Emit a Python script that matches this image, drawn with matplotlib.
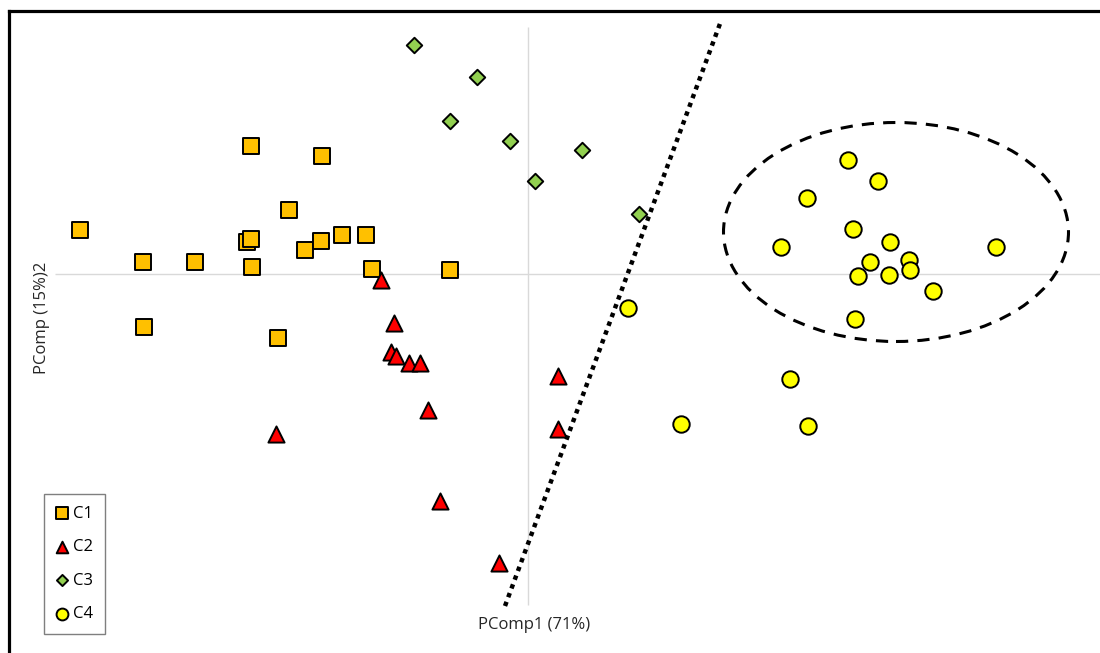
import matplotlib
matplotlib.use('Agg')
import matplotlib.pyplot as plt
from matplotlib.lines import Line2D
from matplotlib.patches import Ellipse

plt.rcParams['font.family'] = ['Open Sans', 'DejaVu Sans']

# ── PCA scores per cluster ─────────────────────────────────────────────────────
c1_x = [-4.48, -3.85, -3.33, -2.81, -2.77, -2.76, -2.77, -2.06, -2.39,
        -2.23, -2.07, -1.86, -1.62, -1.56, -0.78, -3.84, -2.50]
c1_y = [0.44, 0.12, 0.12, 0.32, 0.35, 0.07, 1.28, 1.18, 0.64,
        0.24, 0.33, 0.39, 0.39, 0.05, 0.04, -0.53, -0.64]

c2_x = [-1.47, -1.34, -1.37, -1.32, -1.19, -1.08, -2.52, -1.00, -0.88, -0.29, 0.30, 0.30]
c2_y = [-0.06, -0.49, -0.78, -0.82, -0.89, -0.89, -1.60, -1.36, -2.27, -2.89, -1.02, -1.55]

c3_x = [-1.14, -0.51, -0.78, -0.18, 0.54, 0.07, 1.11]
c3_y = [2.29, 1.97, 1.53, 1.33, 1.24, 0.93, 0.60]

c4_x = [3.20, 3.50, 2.79, 3.25, 2.53, 3.62, 4.68, 3.42, 3.81,
        3.82, 3.30, 3.61, 4.05, 3.27, 1.00, 2.62, 1.53, 2.80]
c4_y = [1.14, 0.93, 0.76, 0.45, 0.27, 0.32, 0.27, 0.12, 0.14,
        0.04, -0.02, -0.01, -0.17, -0.45, -0.34, -1.05, -1.50, -1.52]

# separating line and cluster outline
sep_x = [-0.23, 1.93]
sep_y = [-3.32, 2.53]
ell_center = (3.68, 0.42)
ell_w, ell_h = 3.45, 2.19

fig = plt.figure(figsize=(11, 6.53), dpi=100)
ax = fig.add_axes([0, 0, 1, 1])
ax.set_xlim(-5.28, 5.72)
ax.set_ylim(-3.79, 2.74)
ax.axis('off')

# axes through the origin
ax.hlines(0, -4.73, 5.72, color='#d9d9d9', lw=1, zorder=1)
ax.vlines(0, -3.31, 2.47, color='#d9d9d9', lw=1, zorder=1)

ax.plot(sep_x, sep_y, color='black', lw=3.2, linestyle=(0, (1, 1.1)), zorder=2)
ax.add_patch(Ellipse(ell_center, ell_w, ell_h, fill=False, edgecolor='black',
                     lw=2.2, linestyle=(0, (4, 3)), zorder=2))

kw = dict(edgecolors='black', linewidths=1.4, zorder=3)
ax.scatter(c1_x, c1_y, marker='s', s=125, c='#FFC000', label='C1', **kw)
ax.scatter(c2_x, c2_y, marker='^', s=135, c='#FF0000', label='C2', **kw)
ax.scatter(c3_x, c3_y, marker='D', s=62, c='#92D050', label='C3', **kw)
ax.scatter(c4_x, c4_y, marker='o', s=140, c='#FFFF00', label='C4', **kw)

leg = ax.legend(loc='lower left', bbox_to_anchor=(44 / 1100, 1 - 634 / 653),
                bbox_transform=fig.transFigure, borderaxespad=0,
                fontsize=12, markerscale=0.72, labelspacing=1.05,
                handlelength=0.75, handletextpad=0.3, borderpad=0.7,
                fancybox=False, edgecolor='#7f7f7f', framealpha=1)
leg.get_frame().set_linewidth(1)

fig.text(534 / 1100, 1 - 625 / 653, 'PComp1 (71%)', ha='center', va='center',
         fontsize=12, color='#262626')
fig.text(42 / 1100, 1 - 318 / 653, 'PComp (15%)2', ha='center', va='center',
         rotation=90, fontsize=12, color='#262626')

# outer frame (left and top edges)
fig.add_artist(Line2D([9 / 1100, 9 / 1100], [0, 1 - 10.5 / 653],
                      color='black', lw=2.3, transform=fig.transFigure))
fig.add_artist(Line2D([9 / 1100, 1], [1 - 10.5 / 653, 1 - 10.5 / 653],
                      color='black', lw=2.3, transform=fig.transFigure))

plt.savefig('out.png', dpi=100)
